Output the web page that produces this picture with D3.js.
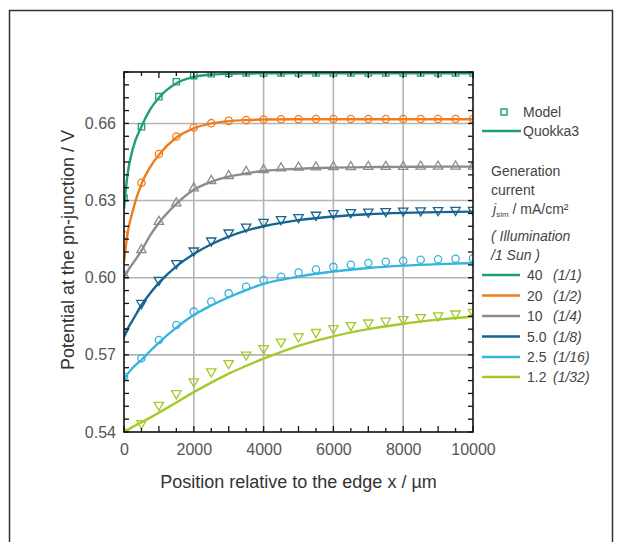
<!DOCTYPE html>
<html>
<head>
<meta charset="utf-8">
<script src="https://cdn.jsdelivr.net/npm/d3@7/dist/d3.min.js"></script>
<style>
  html, body { margin: 0; padding: 0; background: #fff; }
  svg { display: block; font-family: "Liberation Sans", Arial, sans-serif; }
</style>
</head>
<body>
<svg id="chart" width="623" height="542"></svg>
<script>
// ---------------- DATA ----------------
const seriesNames = ["40", "20", "10", "5.0", "2.5", "1.2"];
const illumination = ["(1/1)", "(1/2)", "(1/4)", "(1/8)", "(1/16)", "(1/32)"];
const seriesColors = ["#1f9e7e", "#ef7d1d", "#8c8c8c", "#17648f", "#34b4de", "#a3c92a"];
const markerShapes = ["square", "circle", "triangleUp", "triangleDown", "circle", "triangleDown"];

// Quokka3 simulation (lines)
const lineX = [0, 100, 250, 500, 750, 1000, 1500, 2000, 2500, 3000, 3500, 4000, 5000, 6000, 7000, 8000, 9000, 10000];
const line40  = [0.627, 0.640, 0.650, 0.6588, 0.6655, 0.6700, 0.6756, 0.6781, 0.6790, 0.6793, 0.6794, 0.6795, 0.6795, 0.6795, 0.6795, 0.6795, 0.6795, 0.6795];
const line20  = [0.606, 0.617, 0.626, 0.6365, 0.6430, 0.6478, 0.6545, 0.6581, 0.6600, 0.6609, 0.6613, 0.6615, 0.6616, 0.6616, 0.6616, 0.6616, 0.6616, 0.6616];
const line10  = [0.600, 0.6025, 0.6055, 0.6105, 0.6165, 0.6213, 0.6287, 0.6342, 0.6373, 0.6393, 0.6406, 0.6415, 0.6424, 0.6428, 0.6430, 0.6431, 0.6432, 0.6432];
const line5   = [0.577, 0.580, 0.5835, 0.5893, 0.5940, 0.5980, 0.6044, 0.6092, 0.6130, 0.6160, 0.6183, 0.6200, 0.6224, 0.6238, 0.6247, 0.6252, 0.6255, 0.6257];
const line2_5 = [0.5605, 0.5625, 0.5650, 0.5680, 0.5715, 0.5748, 0.5806, 0.5855, 0.5892, 0.5924, 0.5952, 0.5976, 0.6004, 0.6024, 0.6038, 0.6047, 0.6053, 0.6057];
const line1_2 = [0.5400, 0.5408, 0.5420, 0.5438, 0.5456, 0.5475, 0.5515, 0.5555, 0.5592, 0.5627, 0.5657, 0.5685, 0.5735, 0.5772, 0.5800, 0.5821, 0.5837, 0.5849];

// Model (markers)
const modelX = [0, 500, 1000, 1500, 2000, 2500, 3000, 3500, 4000, 4500, 5000, 5500, 6000, 6500, 7000, 7500, 8000, 8500, 9000, 9500, 10000];
const model40  = [0.631, 0.6587, 0.6704, 0.6762, 0.6786, 0.6793, 0.6795, 0.6796, 0.6796, 0.6796, 0.6796, 0.6796, 0.6796, 0.6796, 0.6796, 0.6796, 0.6796, 0.6796, 0.6796, 0.6796, 0.6796];
const model20  = [0.6166, 0.6369, 0.6481, 0.6549, 0.6584, 0.6601, 0.6610, 0.6613, 0.6615, 0.6616, 0.6616, 0.6617, 0.6617, 0.6617, 0.6617, 0.6617, 0.6617, 0.6617, 0.6617, 0.6617, 0.6617];
const model10  = [0.601, 0.6108, 0.6218, 0.6290, 0.6348, 0.6377, 0.6396, 0.6412, 0.6419, 0.6426, 0.6429, 0.6430, 0.6431, 0.6431, 0.6432, 0.6432, 0.6432, 0.6433, 0.6433, 0.6433, 0.6433];
const model5   = [0.579, 0.5901, 0.5991, 0.6056, 0.6105, 0.6144, 0.6175, 0.6198, 0.6216, 0.6227, 0.6235, 0.6244, 0.6250, 0.6254, 0.6256, 0.6258, 0.6260, 0.6261, 0.6262, 0.6263, 0.6263];
const model2_5 = [0.5615, 0.5687, 0.5758, 0.5816, 0.5868, 0.5907, 0.5939, 0.5965, 0.5991, 0.6004, 0.6020, 0.6032, 0.6042, 0.6050, 0.6057, 0.6062, 0.6066, 0.6070, 0.6072, 0.6074, 0.6076];
const model1_2 = [0.540, 0.5434, 0.5505, 0.5550, 0.5596, 0.5635, 0.5667, 0.5700, 0.5725, 0.5751, 0.5771, 0.5788, 0.5803, 0.5815, 0.5825, 0.5832, 0.5838, 0.5846, 0.5853, 0.5860, 0.5866];

const xTickValues = [0, 2000, 4000, 6000, 8000, 10000];
const yTickValues = [0.54, 0.57, 0.60, 0.63, 0.66];

const lineSeries = [line40, line20, line10, line5, line2_5, line1_2];
const modelSeries = [model40, model20, model10, model5, model2_5, model1_2];

// ---------------- LAYOUT ----------------
const svg = d3.select("#chart");
const pL = 124, pR = 473, pT = 72, pB = 432;

const x = d3.scaleLinear().domain([0, 10000]).range([pL, pR]);
const y = d3.scaleLinear().domain([0.54, 0.68]).range([pB, pT]);

// outer border
svg.append("rect").attr("x", 9.5).attr("y", 10.5).attr("width", 603).attr("height", 560)
  .attr("fill", "none").attr("stroke", "#333").attr("stroke-width", 1.5);

// clip
svg.append("defs").append("clipPath").attr("id", "plotclip")
  .append("rect").attr("x", pL).attr("y", pT).attr("width", pR - pL).attr("height", pB - pT);

// grid
const grid = svg.append("g");
grid.selectAll("line.gx").data(xTickValues.slice(1, -1)).join("line")
  .attr("x1", d => x(d)).attr("x2", d => x(d)).attr("y1", pT).attr("y2", pB)
  .attr("stroke", "#b4b4b4").attr("stroke-width", 1.6);
grid.selectAll("line.gy").data(yTickValues.slice(1)).join("line")
  .attr("x1", pL).attr("x2", pR).attr("y1", d => y(d)).attr("y2", d => y(d))
  .attr("stroke", "#b4b4b4").attr("stroke-width", 1.6);

// lines
const plot = svg.append("g").attr("clip-path", "url(#plotclip)");
const lineGen = d3.line().x((d, i) => x(lineX[i])).y(d => y(d)).curve(d3.curveMonotoneX);
lineSeries.forEach((s, k) => {
  plot.append("path").datum(s).attr("d", lineGen)
    .attr("fill", "none").attr("stroke", seriesColors[k]).attr("stroke-width", 2.4);
});

// markers
const symbolType = {
  square: d3.symbolSquare, circle: d3.symbolCircle,
  triangleUp: d3.symbolTriangle, triangleDown: d3.symbolTriangle
};
const symbolSize = { square: 40, circle: 42, triangleUp: 38, triangleDown: 38 };
modelSeries.forEach((s, k) => {
  const shape = markerShapes[k];
  const sym = d3.symbol().type(symbolType[shape]).size(symbolSize[shape]);
  plot.append("g").selectAll("path").data(s).join("path")
    .attr("d", sym)
    .attr("transform", (d, i) => `translate(${x(modelX[i])},${y(d)})` + (shape === "triangleDown" ? " rotate(180)" : ""))
    .attr("fill", "none").attr("stroke", seriesColors[k]).attr("stroke-width", 1.3);
});

// axes ticks (inward, all four sides)
const xMinor = d3.range(0, 10001, 500);
const yMinor = d3.range(0, 29).map(i => 0.54 + i * 0.005);
const tickG = svg.append("g").attr("stroke", "#111").attr("stroke-width", 1.3);
xMinor.forEach(v => {
  const len = (v % 1000 === 0) ? 6 : 4;
  tickG.append("line").attr("x1", x(v)).attr("x2", x(v)).attr("y1", pB).attr("y2", pB - len);
  tickG.append("line").attr("x1", x(v)).attr("x2", x(v)).attr("y1", pT).attr("y2", pT + len);
});
yMinor.forEach(v => {
  const len = 5;
  tickG.append("line").attr("x1", pL).attr("x2", pL + len).attr("y1", y(v)).attr("y2", y(v));
  tickG.append("line").attr("x1", pR).attr("x2", pR - len).attr("y1", y(v)).attr("y2", y(v));
});

// frame
svg.append("rect").attr("x", pL).attr("y", pT).attr("width", pR - pL).attr("height", pB - pT)
  .attr("fill", "none").attr("stroke", "#111").attr("stroke-width", 1.6);

// tick labels via d3 axes
const xAxis = d3.axisBottom(x).tickValues(xTickValues).tickSize(0).tickPadding(12).tickFormat(d3.format("d"));
const gx = svg.append("g").attr("transform", `translate(0,${pB})`).call(xAxis);
gx.select(".domain").remove();
gx.selectAll("text").attr("font-size", 16).attr("fill", "#555").attr("font-family", "Liberation Sans, Arial, sans-serif");

const yAxis = d3.axisLeft(y).tickValues(yTickValues).tickSize(0).tickPadding(8).tickFormat(d3.format(".2f"));
const gy = svg.append("g").attr("transform", `translate(${pL},0)`).call(yAxis);
gy.select(".domain").remove();
gy.selectAll("text").attr("font-size", 16).attr("fill", "#555").attr("font-family", "Liberation Sans, Arial, sans-serif");

// axis titles
svg.append("text").attr("x", (pL + pR) / 2).attr("y", 488).attr("text-anchor", "middle")
  .attr("font-size", 18).attr("fill", "#333").text("Position relative to the edge x / µm");
svg.append("text").attr("transform", `translate(74,250) rotate(-90)`).attr("text-anchor", "middle")
  .attr("font-size", 18).attr("fill", "#333").text("Potential at the pn-junction / V");

// legend
const lg = svg.append("g").attr("font-size", 14).attr("fill", "#444");
lg.append("path").attr("d", d3.symbol().type(d3.symbolSquare).size(36)())
  .attr("transform", "translate(504,112)").attr("fill", "none").attr("stroke", seriesColors[0]).attr("stroke-width", 1.5);
lg.append("text").attr("x", 523).attr("y", 117).text("Model");
lg.append("line").attr("x1", 482).attr("x2", 521).attr("y1", 131).attr("y2", 131)
  .attr("stroke", seriesColors[0]).attr("stroke-width", 2.4);
lg.append("text").attr("x", 523).attr("y", 136).text("Quokka3");

lg.append("text").attr("x", 491).attr("y", 176).text("Generation");
lg.append("text").attr("x", 491).attr("y", 195).text("current");
const jt = lg.append("text").attr("x", 493).attr("y", 214);
jt.append("tspan").attr("font-style", "italic").text("j");
jt.append("tspan").attr("font-size", 8).attr("dy", 3).text("sim");
jt.append("tspan").attr("dy", -3).text(" / mA/cm²");
lg.append("text").attr("x", 491).attr("y", 241).attr("font-style", "italic").text("( Illumination");
lg.append("text").attr("x", 491).attr("y", 260).attr("font-style", "italic").text("/1 Sun )");

const rowY = [275, 295.5, 316, 336.5, 357, 377];
seriesNames.forEach((nm, k) => {
  lg.append("line").attr("x1", 482).attr("x2", 520).attr("y1", rowY[k]).attr("y2", rowY[k])
    .attr("stroke", seriesColors[k]).attr("stroke-width", 2.4);
  const t = lg.append("text").attr("x", 527).attr("y", rowY[k] + 5);
  t.append("tspan").text(nm);
  t.append("tspan").attr("x", 553).attr("font-style", "italic").text(illumination[k]);
});
</script>
</body>
</html>
